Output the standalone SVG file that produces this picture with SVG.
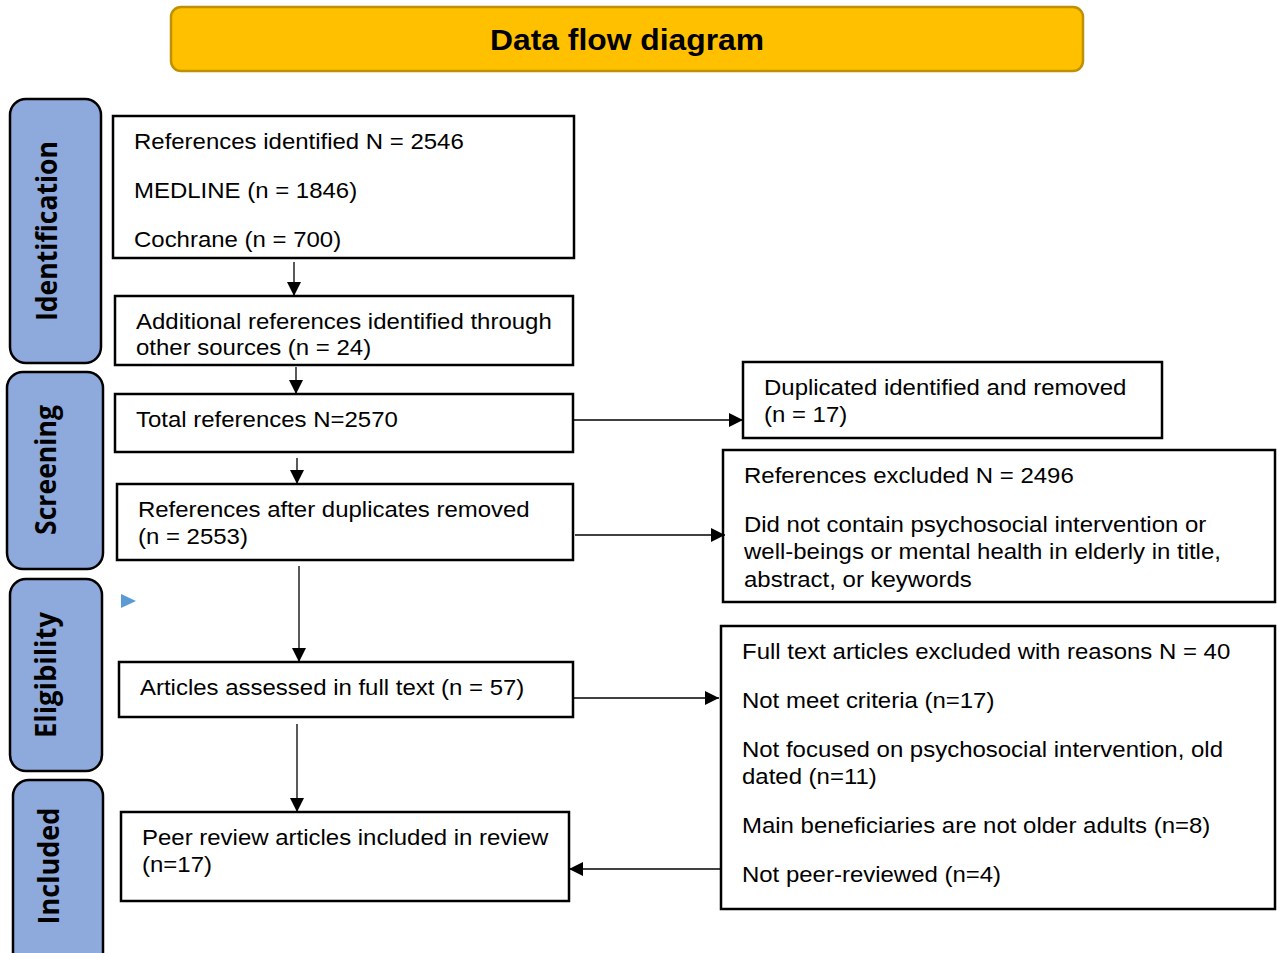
<svg xmlns="http://www.w3.org/2000/svg" width="1279" height="953" viewBox="0 0 1279 953">
<defs>
<style>
.box{fill:#fff;stroke:#000;stroke-width:2.5}
.side{fill:#8EA9DB;stroke:#000;stroke-width:2.5}
.t{font-family:"Liberation Sans",Arial,sans-serif;font-size:22px;fill:#000}
.s{font-family:"Open Sans","DejaVu Sans",sans-serif;font-size:28px;font-weight:bold;fill:#000}
.c{stroke:#000;stroke-width:1.3;fill:none}
</style>
<marker id="ah" viewBox="0 0 10 10" refX="10" refY="5" markerWidth="14" markerHeight="14" markerUnits="userSpaceOnUse" orient="auto">
<path d="M0,0 L10,5 L0,10 z" fill="#000"/>
</marker>
</defs>
<rect width="1279" height="953" fill="#fff"/>
<g id="title">
<rect x="171" y="7" width="912" height="64" rx="10" fill="#FFC000" stroke="#BF9000" stroke-width="2.5"/>
<text x="627" y="50" text-anchor="middle" font-family="'Liberation Sans',Arial,sans-serif" font-size="30" font-weight="bold" textLength="274" lengthAdjust="spacingAndGlyphs">Data flow diagram</text>
</g>
<g id="stage-identification">
<rect class="side" x="10" y="99" width="91" height="264" rx="16"/>
<text class="s" transform="translate(57,231) rotate(-90)" text-anchor="middle" textLength="180" lengthAdjust="spacingAndGlyphs">Identification</text>
</g>
<g id="stage-screening">
<rect class="side" x="7" y="372" width="96" height="197" rx="16"/>
<text class="s" transform="translate(56,470) rotate(-90)" text-anchor="middle" textLength="130" lengthAdjust="spacingAndGlyphs">Screening</text>
</g>
<g id="stage-eligibility">
<rect class="side" x="10" y="579" width="92" height="192" rx="16"/>
<text class="s" transform="translate(56,675) rotate(-90)" text-anchor="middle" textLength="126" lengthAdjust="spacingAndGlyphs">Eligibility</text>
</g>
<g id="stage-included">
<rect class="side" x="13" y="780" width="90" height="190" rx="16"/>
<text class="s" transform="translate(59,866) rotate(-90)" text-anchor="middle" textLength="117" lengthAdjust="spacingAndGlyphs">Included</text>
</g>
<g id="n1">
<rect class="box" x="113" y="116" width="461" height="142"/>
<g transform="matrix(1.09 0 0 1 -12.06 0)">
<text class="t" x="134" y="149">References identified N = 2546</text>
<text class="t" x="134" y="198">MEDLINE (n = 1846)</text>
<text class="t" x="134" y="247">Cochrane (n = 700)</text>
</g>
</g>
<g id="n2">
<rect class="box" x="115" y="296" width="458" height="69"/>
<g transform="matrix(1.09 0 0 1 -12.24 0)">
<text class="t" x="136" y="329">Additional references identified through</text>
<text class="t" x="136" y="355">other sources (n = 24)</text>
</g>
</g>
<g id="n3">
<rect class="box" x="115" y="394" width="458" height="58"/>
<g transform="matrix(1.09 0 0 1 -12.24 0)">
<text class="t" x="136" y="427">Total references N=2570</text>
</g>
</g>
<g id="n4">
<rect class="box" x="117" y="484" width="456" height="76"/>
<g transform="matrix(1.09 0 0 1 -12.42 0)">
<text class="t" x="138" y="517">References after duplicates removed</text>
<text class="t" x="138" y="544">(n = 2553)</text>
</g>
</g>
<g id="n5">
<rect class="box" x="119" y="662" width="454" height="55"/>
<g transform="matrix(1.09 0 0 1 -12.6 0)">
<text class="t" x="140" y="695">Articles assessed in full text (n = 57)</text>
</g>
</g>
<g id="n6">
<rect class="box" x="121" y="812" width="448" height="89"/>
<g transform="matrix(1.09 0 0 1 -12.78 0)">
<text class="t" x="142" y="845">Peer review articles included in review</text>
<text class="t" x="142" y="872">(n=17)</text>
</g>
</g>
<g id="r1">
<rect class="box" x="743" y="362" width="419" height="76"/>
<g transform="matrix(1.09 0 0 1 -68.76 0)">
<text class="t" x="764" y="395">Duplicated identified and removed</text>
<text class="t" x="764" y="422">(n = 17)</text>
</g>
</g>
<g id="r2">
<rect class="box" x="723" y="450" width="552" height="152"/>
<g transform="matrix(1.09 0 0 1 -66.96 0)">
<text class="t" x="744" y="483">References excluded N = 2496</text>
<text class="t" x="744" y="532">Did not contain psychosocial intervention or</text>
<text class="t" x="744" y="559">well-beings or mental health in elderly in title,</text>
<text class="t" x="744" y="587">abstract, or keywords</text>
</g>
</g>
<g id="r3">
<rect class="box" x="721" y="626" width="554" height="283"/>
<g transform="matrix(1.09 0 0 1 -66.78 0)">
<text class="t" x="742" y="659">Full text articles excluded with reasons N = 40</text>
<text class="t" x="742" y="708">Not meet criteria (n=17)</text>
<text class="t" x="742" y="757">Not focused on psychosocial intervention, old</text>
<text class="t" x="742" y="784">dated (n=11)</text>
<text class="t" x="742" y="833">Main beneficiaries are not older adults (n=8)</text>
<text class="t" x="742" y="882">Not peer-reviewed (n=4)</text>
</g>
</g>
<g id="marker-blue">
<path d="M121,594 L136,601 L121,608 z" fill="#5B9BD5"/>
</g>
<g id="connectors">
<line class="c" x1="294" y1="262" x2="294" y2="296" marker-end="url(#ah)"/>
<line class="c" x1="296" y1="367" x2="296" y2="394" marker-end="url(#ah)"/>
<line class="c" x1="297" y1="458" x2="297" y2="484" marker-end="url(#ah)"/>
<line class="c" x1="299" y1="566" x2="299" y2="662" marker-end="url(#ah)"/>
<line class="c" x1="297" y1="724" x2="297" y2="812" marker-end="url(#ah)"/>
<line class="c" x1="574" y1="420" x2="743" y2="420" marker-end="url(#ah)"/>
<line class="c" x1="575" y1="535" x2="725" y2="535" marker-end="url(#ah)"/>
<line class="c" x1="573" y1="698" x2="719" y2="698" marker-end="url(#ah)"/>
<line class="c" x1="720" y1="869" x2="569" y2="869" marker-end="url(#ah)"/>
</g>
</svg>
